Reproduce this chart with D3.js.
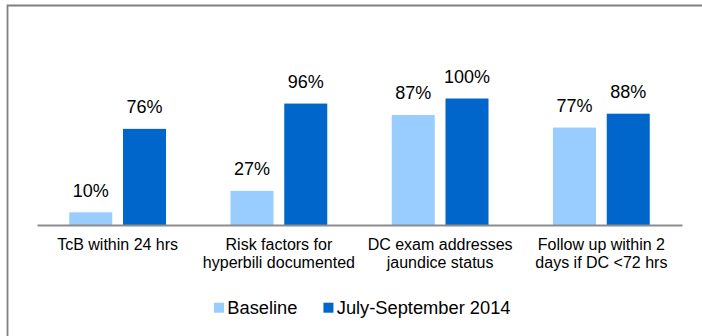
<!DOCTYPE html>
<html>
<head>
<meta charset="utf-8">
<script src="https://cdn.jsdelivr.net/npm/d3@7"></script>
<style>
    html, body { margin: 0; padding: 0; background: #fff; }
    svg { display: block; font-family: "Liberation Sans", Arial, sans-serif; }
</style>
</head>
<body>
<div id="container"></div>
<script>
const width = 702;
const height = 336;

// data
const categories = ["TcB", "Risk", "DC", "Follow"];
const categoryLines = [
    ["TcB within 24 hrs"],
    ["Risk factors for", "hyperbili documented"],
    ["DC exam addresses", "jaundice status"],
    ["Follow up within 2", "days if DC <72 hrs"],
];
const seriesNames = ["Baseline", "July-September 2014"];
const baseline = [10, 27, 87, 77];
const julySep = [76, 96, 100, 88];
const colors = ["#99CCFF", "#0066CC"];

const rows = categories.map((c, i) => ({ cat: c, values: [baseline[i], julySep[i]] }));

const svg = d3.select("#container")
    .append("svg")
    .attr("width", width)
    .attr("height", height);

// outer frame (only top and left edges are visible)
svg.append("path")
    .attr("d", "M7.5,340 V5.5 H710")
    .attr("fill", "none")
    .attr("stroke", "#808080")
    .attr("stroke-width", 1.8);

const x0 = d3.scaleBand()
    .domain(categories)
    .range([37, 682])
    .paddingInner(0.4)
    .paddingOuter(0.2);
const x1 = d3.scaleBand()
    .domain([0, 1])
    .range([0, x0.bandwidth()])
    .paddingInner(0.2);
const y = d3.scaleLinear()
    .domain([0, 100])
    .range([225, 98.5]);

const groups = svg.append("g")
    .selectAll("g")
    .data(rows)
    .enter()
    .append("g")
    .attr("transform", (d) => `translate(${x0(d.cat)},0)`);

groups.selectAll("rect")
    .data((d) => d.values)
    .enter()
    .append("rect")
    .attr("x", (v, i) => x1(i))
    .attr("y", (v) => y(v))
    .attr("width", x1.bandwidth())
    .attr("height", (v) => y(0) - y(v))
    .attr("fill", (v, i) => colors[i]);

groups.selectAll("text")
    .data((d) => d.values)
    .enter()
    .append("text")
    .attr("x", (v, i) => x1(i) + x1.bandwidth() / 2)
    .attr("y", (v) => y(v) - 15.5)
    .attr("text-anchor", "middle")
    .attr("font-size", 18)
    .attr("fill", "#000")
    .text((v) => v + "%");

// category axis
const axis = svg.append("g")
    .attr("transform", `translate(0,${y(0)})`)
    .call(d3.axisBottom(x0).tickSize(0).tickSizeOuter(0).tickFormat(""));
axis.select(".domain")
    .attr("stroke", "#8c8c8c")
    .attr("stroke-width", 1.8);

axis.selectAll(".tick")
    .each(function (d, i) {
        const t = d3.select(this).select("text")
            .attr("y", 0)
            .attr("dy", null)
            .attr("font-size", 16)
            .attr("font-family", "\"Liberation Sans\", Arial, sans-serif")
            .attr("fill", "#000");
        categoryLines[i].forEach((line, li) => {
            t.append("tspan")
                .attr("x", 0)
                .attr("y", 25 + li * 18.3)
                .text(line);
        });
    });

// legend
const legend = svg.append("g");
let lx = 214;
seriesNames.forEach((name, i) => {
    legend.append("rect")
        .attr("x", lx)
        .attr("y", 302.7)
        .attr("width", 10)
        .attr("height", 10)
        .attr("fill", colors[i]);
    const t = legend.append("text")
        .attr("x", lx + 13.3)
        .attr("y", 314)
        .attr("font-size", 18.3)
        .attr("fill", "#000")
        .text(name);
    lx += 13.3 + t.node().getComputedTextLength() + 26;
});
</script>
</body>
</html>
